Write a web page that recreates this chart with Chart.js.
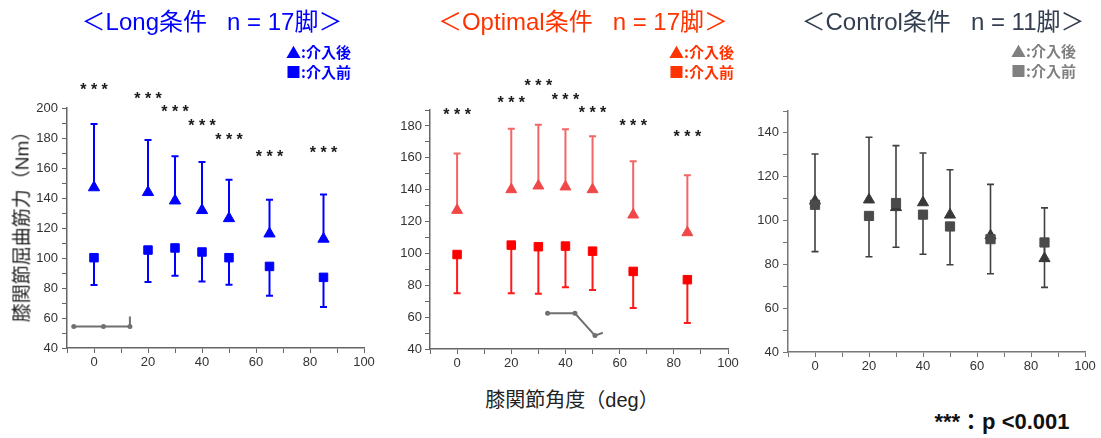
<!DOCTYPE html>
<html>
<head>
<meta charset="utf-8">
<script src="https://cdn.jsdelivr.net/npm/chart.js@4.4.1/dist/chart.umd.min.js"></script>
<style>
  body { margin: 0; width: 1101px; height: 438px; background: #fff; position: relative; overflow: hidden;
         font-family: "Liberation Sans", "Noto Sans CJK JP", sans-serif; }
  canvas { position: absolute; top: 0; }
  .t { position: absolute; white-space: pre; line-height: 1; transform: translate(-50%, -50%); }
  .lg { position: absolute; white-space: pre; line-height: 1; font-weight: bold; font-size: 15px;
        font-family: "Noto Sans CJK JP", sans-serif; }
</style>
</head>
<body>
<canvas id="cLong" width="380" height="382" style="left:0px"></canvas>
<canvas id="cOpt" width="365" height="382" style="left:380px"></canvas>
<canvas id="cCtrl" width="356" height="385" style="left:745px"></canvas>

<div class="t" style="left:212px;top:22px;font-size:24px;color:#0000ff">＜Long条件   n = 17脚＞</div>
<div class="t" style="left:583px;top:22px;font-size:24px;color:#ff3300">＜Optimal条件   n = 17脚＞</div>
<div class="t" style="left:943px;top:22px;font-size:24px;color:#333f50">＜Control条件   n = 11脚＞</div>

<div class="lg" style="left:286px;top:44px;color:#0000ff">▲:介入後</div>
<div class="lg" style="left:286px;top:64px;color:#0000ff">■:介入前</div>
<div class="lg" style="left:669px;top:44px;color:#ff3300">▲:介入後</div>
<div class="lg" style="left:669px;top:64px;color:#ff3300">■:介入前</div>
<div class="lg" style="left:1011px;top:43px;color:#808080">▲:介入後</div>
<div class="lg" style="left:1011px;top:63px;color:#808080">■:介入前</div>

<div class="t" style="left:22px;top:222px;font-size:19px;color:#222;transform:translate(-50%,-50%) rotate(-90deg)">膝関節屈曲筋力（Nm）</div>
<div class="t" style="left:572px;top:400px;font-size:20px;color:#222">膝関節角度（deg）</div>
<div class="t" style="left:1002px;top:422px;font-size:22px;font-weight:bold;color:#111">***：p &lt;0.001</div>

<script>
// knee angle (deg)
const angles = [0, 20, 30, 40, 50, 65, 85];

// Long
const longAfter = [147, 143.8, 138.2, 131.8, 126.4, 116.2, 112.7];
const longAfterSD = [42.3, 34.9, 29.6, 32.2, 25.8, 22.7, 29.7];
const longBefore = [100.2, 105.3, 106.7, 104, 100.2, 94.4, 87.1];
const longBeforeSD = [18.2, 21.3, 18.5, 19.6, 18, 19.5, 19.8];
const longStars = [215, 209, 200, 190.5, 181.5, 170, 173];

// Optimal
const optAfter = [127.1, 140.1, 142.4, 141.8, 140.1, 124.2, 113.1];
const optAfterSD = [35.6, 38.2, 38.4, 36.1, 33.4, 33.7, 36];
const optBefore = [99.3, 105.2, 104.2, 104.6, 101.4, 88.7, 83.5];
const optBeforeSD = [24.3, 30.2, 29.5, 25.9, 24.4, 23, 27.2];
const optStars = [189.4, 197.2, 207.4, 198.6, 190.9, 182.5, 175.6];

// Control
const ctrlAfter = [109, 109.5, 106, 108.2, 102.6, 93.1, 82.7];
const ctrlAfterSD = [21.4, 28.5, 28.2, 22.6, 20.6, 23.4, 23.1];
const ctrlBefore = [107.2, 102.1, 108, 102.7, 97.3, 91.5, 90];
const ctrlBeforeSD = [21.4, 18.6, 20.2, 18.1, 17.5, 15.8, 20.5];

// small knee icons
const kneeLongX = [-7.5, 3.5, 13.3, 13.3];
const kneeLongY = [54.4, 54.4, 54.4, 61];
const kneeOptX = [33.4, 43.5, 50.9, 53.8];
const kneeOptY = [62.4, 62.4, 48.4, 50.2];

Chart.defaults.font.family = '"Liberation Sans", Arial, sans-serif';
Chart.defaults.animation = false;

const pts = (xs, ys) => xs.map((v, i) => ({ x: v, y: ys[i] }));

// one sided SD bars, drawn under the markers
const errorBars = {
  id: 'errorBars',
  beforeDatasetsDraw(chart) {
    const { ctx, scales: { x, y } } = chart;
    chart.data.datasets.forEach(ds => {
      if (!ds.sd) return;
      ctx.save();
      ctx.strokeStyle = ds.barColor;
      ctx.lineWidth = ds.barWidth;
      ds.data.forEach((p, j) => {
        const px = x.getPixelForValue(p.x);
        const y0 = y.getPixelForValue(p.y);
        const y1 = y.getPixelForValue(p.y + ds.dir * ds.sd[j]);
        ctx.beginPath();
        ctx.moveTo(px, y0);
        ctx.lineTo(px, y1);
        ctx.moveTo(px - 3.5, y1);
        ctx.lineTo(px + 3.5, y1);
        ctx.stroke();
      });
      ctx.restore();
    });
  }
};

const starMarks = {
  id: 'stars',
  afterDatasetsDraw(chart, args, opts) {
    if (!opts.ys) return;
    const { ctx, scales: { x, y } } = chart;
    ctx.save();
    ctx.font = 'bold 16px "Liberation Sans"';
    ctx.fillStyle = '#1a1a1a';
    ctx.textAlign = 'center';
    ctx.textBaseline = 'alphabetic';
    opts.ys.forEach((v, i) => {
      ctx.fillText('* * *', x.getPixelForValue(angles[i]), y.getPixelForValue(v) + 9);
    });
    ctx.restore();
  }
};

function makePanel(id, p) {
  const datasets = [
    {
      data: pts(angles, p.before), sd: p.beforeSD, dir: -1,
      barColor: p.beforeBar, barWidth: p.barWidth,
      pointStyle: 'rect', pointRadius: p.rectR,
      backgroundColor: p.beforeColor, borderColor: p.beforeColor, pointBorderWidth: 1
    },
    {
      data: pts(angles, p.after), sd: p.afterSD, dir: 1,
      barColor: p.afterBar, barWidth: p.barWidth,
      pointStyle: 'triangle', pointRadius: p.triR,
      backgroundColor: p.afterColor, borderColor: p.afterColor, pointBorderWidth: 1
    }
  ];
  if (p.kneeX) {
    datasets.push({
      type: 'line', data: pts(p.kneeX, p.kneeY), showLine: true,
      borderColor: '#707070', backgroundColor: '#707070', borderWidth: 2,
      pointRadius: [2.5, 2.5, 2.5, 0], pointBorderWidth: 0
    });
  }
  const tickOpts = {
    color: '#333', font: { size: 13 }, autoSkip: false, stepSize: 10,
    callback: v => (v % 20 === 0 && v >= 0) ? v : ''
  };
  return new Chart(document.getElementById(id), {
    type: 'scatter',
    data: { datasets },
    options: {
      responsive: false,
      layout: { padding: p.padding },
      plugins: { legend: { display: false }, tooltip: { enabled: false }, stars: { ys: p.stars } },
      scales: {
        x: {
          min: -10, max: 100,
          ticks: { ...tickOpts, padding: 2, maxRotation: 0 },
          grid: { drawOnChartArea: false, tickLength: 5, color: p.axisColor },
          border: { color: p.axisColor, width: 1.5 },
          afterFit: s => { s.height = 30; }
        },
        y: {
          min: p.yMin, max: p.yMax,
          ticks: { ...tickOpts, padding: p.yPad },
          grid: { drawOnChartArea: false, tickLength: 5, color: p.axisColor },
          border: { color: p.axisColor, width: 1.5 },
          afterFit: s => { s.width = p.yWidth; }
        }
      }
    },
    plugins: [errorBars, starMarks]
  });
}

makePanel('cLong', {
  after: longAfter, afterSD: longAfterSD, before: longBefore, beforeSD: longBeforeSD, stars: longStars,
  afterColor: '#0000ff', beforeColor: '#0000ff', afterBar: '#0000ff', beforeBar: '#0000ff', barWidth: 2,
  triR: 6.5, rectR: 6, kneeX: kneeLongX, kneeY: kneeLongY,
  yMin: 40, yMax: 200, yWidth: 67, yPad: 4, axisColor: '#666',
  padding: { top: 108, left: 0, right: 16, bottom: 4 }
});

makePanel('cOpt', {
  after: optAfter, afterSD: optAfterSD, before: optBefore, beforeSD: optBeforeSD, stars: optStars,
  afterColor: '#f04848', beforeColor: '#ff0000', afterBar: '#f26666', beforeBar: '#ff1a1a', barWidth: 2,
  triR: 6.3, rectR: 6, kneeX: kneeOptX, kneeY: kneeOptY,
  yMin: 40, yMax: 190, yWidth: 50, yPad: 3, axisColor: '#666',
  padding: { top: 110, left: 0, right: 17, bottom: 3 }
});

makePanel('cCtrl', {
  after: ctrlAfter, afterSD: ctrlAfterSD, before: ctrlBefore, beforeSD: ctrlBeforeSD, stars: null,
  afterColor: '#383838', beforeColor: '#4a4a4a', afterBar: '#404040', beforeBar: '#404040', barWidth: 1.6,
  triR: 6.4, rectR: 6.5,
  yMin: 40, yMax: 150, yWidth: 43, yPad: 4, axisColor: '#777',
  padding: { top: 111, left: 0, right: 16, bottom: 3 }
});
</script>
</body>
</html>
